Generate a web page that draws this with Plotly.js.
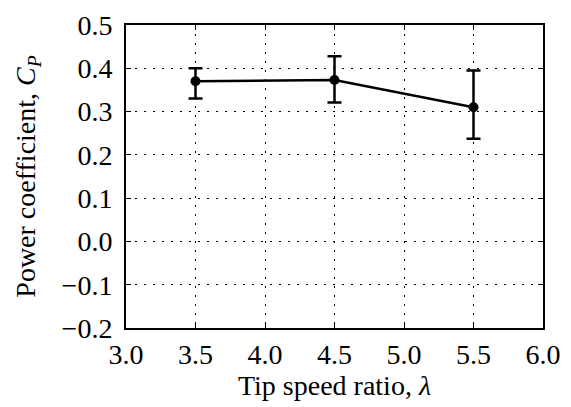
<!DOCTYPE html>
<html>
<head>
<meta charset="utf-8">
<script src="https://cdn.plot.ly/plotly-3.0.1.min.js"></script>
<style>html,body{margin:0;padding:0;background:#fff;}#chart{width:571px;height:407px;}</style>
</head>
<body>
<div id="chart"></div>
<script>
const tipSpeedRatio = [3.5, 4.5, 5.5];
const powerCoefficient = [0.370, 0.373, 0.310];
const errorPlus = [0.030, 0.055, 0.085];
const errorMinus = [0.040, 0.052, 0.073];
const xTicks = [3.0, 3.5, 4.0, 4.5, 5.0, 5.5, 6.0];
const yTicks = [-0.2, -0.1, 0.0, 0.1, 0.2, 0.3, 0.4, 0.5];

const font = {family: 'Liberation Serif, Times New Roman, serif', size: 28, color: '#000'};

const trace = {
  x: tipSpeedRatio,
  y: powerCoefficient,
  type: 'scatter',
  mode: 'lines+markers',
  line: {color: '#000', width: 2.5},
  marker: {color: '#000', size: 10, symbol: 'circle'},
  error_y: {
    type: 'data', symmetric: false,
    array: errorPlus, arrayminus: errorMinus,
    color: '#000', thickness: 2.5, width: 7
  },
  showlegend: false,
  cliponaxis: false
};

const axisCommon = {
  showline: true, linecolor: '#000', linewidth: 2, mirror: 'ticks',
  ticks: 'inside', ticklen: 5, tickwidth: 1, tickcolor: '#000',
  showgrid: true, gridcolor: '#000', gridwidth: 1, griddash: '2px,7px',
  zeroline: false, tickfont: font
};

const layout = {
  width: 571, height: 407,
  margin: {l: 126, r: 28, t: 25, b: 79},
  paper_bgcolor: '#fff', plot_bgcolor: '#fff',
  font: font,
  xaxis: Object.assign({}, axisCommon, {
    range: [3.0, 6.0], tickvals: xTicks,
    ticktext: xTicks.map(v => v.toFixed(1)),
    title: {text: 'Tip speed ratio, <i>λ</i>', font: font, standoff: 7}
  }),
  yaxis: Object.assign({}, axisCommon, {
    range: [-0.2, 0.5], tickvals: yTicks,
    ticklabelstandoff: 6,
    ticktext: yTicks.map(v => (v < 0 ? '\u2212' + Math.abs(v).toFixed(1) : v.toFixed(1))),
    title: {text: 'Power coefficient, <i>C</i><sub><i>P</i></sub>', font: font, standoff: 18}
  })
};

Plotly.newPlot('chart', [trace], layout, {displayModeBar: false, staticPlot: true});
</script>
</body>
</html>
